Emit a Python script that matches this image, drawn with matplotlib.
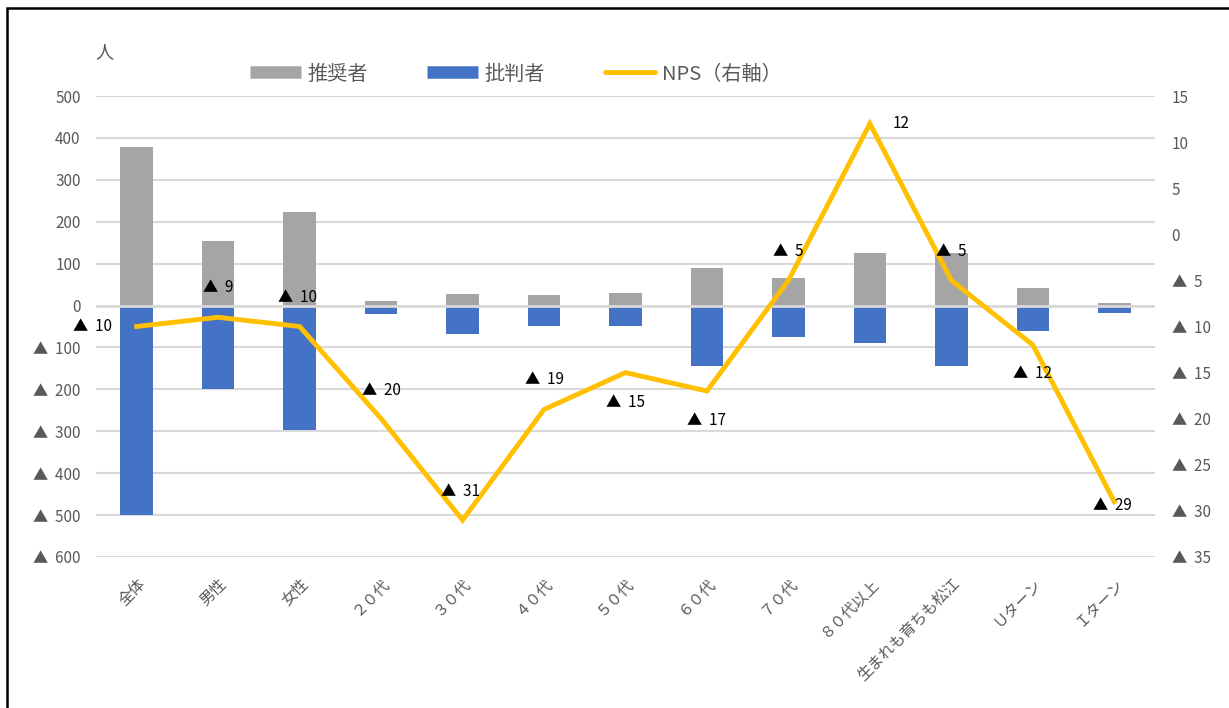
import numpy as np
import matplotlib.pyplot as plt
from matplotlib.patches import Rectangle
from matplotlib.lines import Line2D
from matplotlib.ticker import FuncFormatter, MultipleLocator

plt.rcParams["font.family"] = ["Noto Sans CJK JP", "DejaVu Sans"]

# データ
categories = ["全体", "男性", "女性", "２０代", "３０代", "４０代", "５０代", "６０代",
              "７０代", "８０代以上", "生まれも育ちも松江", "Ｕターン", "Ｉターン"]
promoters = [378, 155, 224, 12, 27, 25, 30, 90, 65, 125, 125, 42, 7]
detractors = [-500, -200, -298, -20, -67, -48, -48, -145, -75, -90, -145, -60, -18]
nps = [-10, -9, -10, -20, -31, -19, -15, -17, -5, 12, -5, -12, -29]

# ラベル位置（ピクセルのずれ）
label_offsets = [(-44, 0), (0, 30), (-2, 29), (0, 28), (-2, 29), (0, 30), (0, -30),
                 (0, -29), (0, 29), (31, 0), (0, 29), (0, -29), (-2, -4)]

GRAY = "#A5A5A5"
BLUE = "#4472C4"
GOLD = "#FFC000"
TICK = "#595959"


def tri_fmt(v, pos):
    v = int(round(v))
    if v < 0:
        return f"▲  {-v}"
    return f"{v}"


fig = plt.figure(figsize=(12.29, 7.08), dpi=100)
ax = fig.add_axes([0.0781, 0.2133, 0.8617, 0.6511])
ax2 = ax.twinx()

x = np.arange(len(categories))
ax.bar(x, promoters, width=0.4, color=GRAY, zorder=2)
ax.bar(x, detractors, width=0.4, color=BLUE, zorder=2)
ax.set_ylim(-600, 500)
ax.set_xlim(-0.5, len(categories) - 0.5)
ax.yaxis.set_major_locator(MultipleLocator(100))
ax.yaxis.set_major_formatter(FuncFormatter(tri_fmt))
ax.grid(axis="y", color="#D9D9D9", linewidth=1.5, zorder=0)
ax.set_axisbelow(True)
ax.axhline(0, color="#D9D9D9", linewidth=2, zorder=3)

ax2.plot(x, nps, color=GOLD, linewidth=3.5, zorder=4, solid_joinstyle="miter")
ax2.set_ylim(-35, 15)
ax2.yaxis.set_major_locator(MultipleLocator(5))
ax2.yaxis.set_major_formatter(FuncFormatter(tri_fmt))

for xi, v, (dx, dy) in zip(x, nps, label_offsets):
    ax2.annotate(tri_fmt(v, None), (xi, v), xytext=(dx, dy), textcoords="offset pixels",
                 ha="center", va="center", fontsize=11, color="black", zorder=5)

for a in (ax, ax2):
    for s in a.spines.values():
        s.set_visible(False)
    a.tick_params(length=0, labelsize=11, labelcolor=TICK)
ax.tick_params(axis="y", pad=11)
ax2.tick_params(axis="y", pad=12)

ax.set_xticks(x)
ax.set_xticklabels(categories, rotation=45, ha="right", rotation_mode="anchor",
                   fontsize=11, color=TICK)
ax.tick_params(axis="x", pad=13)

fig.text(104 / 1229, 1 - 52 / 708, "人", fontsize=13, color=TICK, ha="center", va="center")

handles = [
    Line2D([0], [0], color=GRAY, linewidth=9, solid_capstyle="butt"),
    Line2D([0], [0], color=BLUE, linewidth=9, solid_capstyle="butt"),
    Line2D([0], [0], color=GOLD, linewidth=3.5, solid_capstyle="round"),
]
fig.legend(handles, ["推奨者", "批判者", "NPS（右軸）"], loc="center",
           bbox_to_anchor=(516 / 1229, 1 - 74 / 708), ncol=3, frameon=False,
           fontsize=14.5, labelcolor=TICK, handlelength=2.5, handletextpad=0.35,
           columnspacing=2.95)

fig.patches.append(Rectangle((7 / 1229, -0.1), 1.2, 1.1 - 8 / 708,
                             transform=fig.transFigure, fill=False,
                             edgecolor="black", linewidth=1.8))

fig.savefig("out.png", dpi=100)
